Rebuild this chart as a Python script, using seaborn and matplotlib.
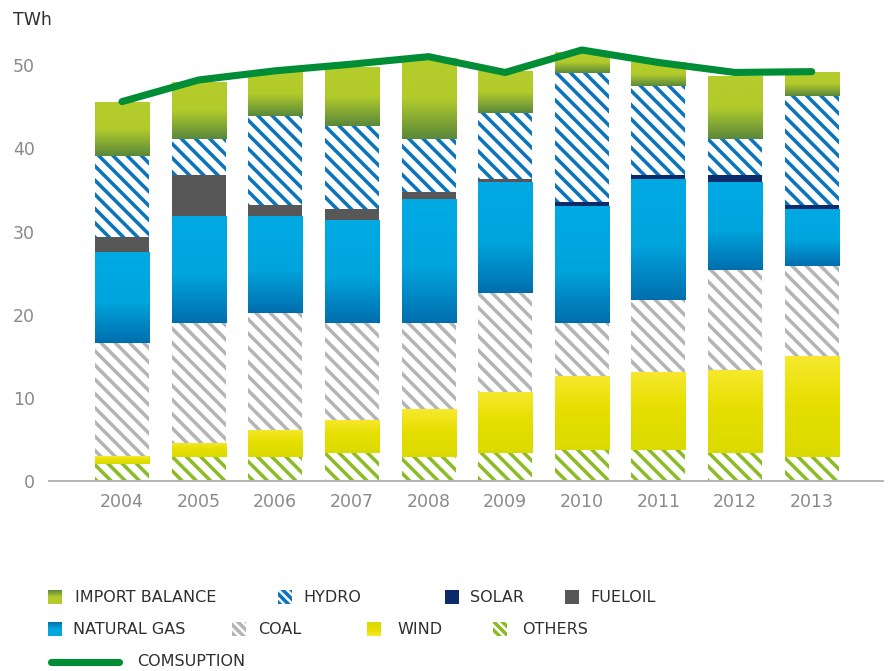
import numpy as np
import pandas as pd
import matplotlib
matplotlib.use("Agg")
import matplotlib.pyplot as plt
import seaborn as sns
from matplotlib.colors import LinearSegmentedColormap
from matplotlib.patches import Rectangle

# ---------------- data ----------------
years = ["2004", "2005", "2006", "2007", "2008", "2009", "2010", "2011", "2012", "2013"]
others = [2.1, 2.9, 2.9, 3.4, 2.9, 3.4, 3.7, 3.7, 3.4, 2.9]
wind = [0.9, 1.75, 3.3, 4.0, 5.75, 7.3, 8.9, 9.4, 10.0, 12.1]
coal = [13.6, 14.35, 14.0, 11.6, 10.35, 11.95, 6.4, 8.65, 12.0, 10.8]
natural_gas = [10.9, 12.9, 11.65, 12.4, 14.9, 13.3, 14.1, 14.55, 10.5, 6.9]
solar = [0, 0, 0, 0, 0, 0, 0.4, 0.5, 0.9, 0.5]
fueloil = [1.9, 4.9, 1.35, 1.3, 0.8, 0.4, 0, 0, 0, 0]
hydro = [9.7, 4.3, 10.7, 10.0, 6.4, 7.9, 15.5, 10.7, 4.3, 13.1]
import_balance = [6.4, 6.9, 5.3, 7.1, 9.7, 5.0, 2.6, 2.8, 7.6, 2.9]
consumption = [45.6, 48.2, 49.3, 50.1, 51.0, 49.1, 51.8, 50.3, 49.1, 49.2]
y_ticks = [0, 10, 20, 30, 40, 50]

# ---------------- style ----------------
DPI = 128
W, H = 890, 671
sns.set_style("white")
plt.rcParams["font.family"] = ["DejaVu Sans"]
plt.rcParams["hatch.linewidth"] = 2.0

GRAY_TXT = "#8a8a8a"
DARK_TXT = "#2f2f2f"
HATCH = "\\\\\\"

cm_gas = LinearSegmentedColormap.from_list(
    "gas", [(0, "#006ead"), (0.45, "#00a4dd"), (1, "#00aae3")])
cm_imp = LinearSegmentedColormap.from_list(
    "imp", [(0, "#5a883b"), (0.5, "#b2cb2b"), (1, "#b5cd2b")])
cm_wind = LinearSegmentedColormap.from_list(
    "wind", [(0, "#dbda00"), (0.55, "#e6df00"), (1, "#f6e92e")])

layers = [
    ("OTHERS", others, dict(hatch="#8dbb25")),
    ("WIND", wind, dict(cmap=cm_wind)),
    ("COAL", coal, dict(hatch="#b5b5b5")),
    ("NATURAL GAS", natural_gas, dict(cmap=cm_gas)),
    ("SOLAR", solar, dict(color="#0d2b6b")),
    ("FUELOIL", fueloil, dict(color="#575757")),
    ("HYDRO", hydro, dict(hatch="#0a74bd")),
    ("IMPORT BALANCE", import_balance, dict(cmap=cm_imp)),
]

fig = plt.figure(figsize=(W / DPI, H / DPI), dpi=DPI)
ax = fig.add_axes([49 / W, (H - 481.3) / H, (883 - 49) / W, (481.3 - 40) / H])

grad = np.linspace(0, 1, 512).reshape(-1, 1)
bottom = np.zeros(len(years))
for name, vals, st in layers:
    vals = np.asarray(vals, dtype=float)
    before = len(ax.patches)
    fc = st.get("color", "white")
    sns.barplot(x=years, y=vals, bottom=bottom, color=fc, saturation=1,
                width=0.705, errorbar=None, ax=ax, linewidth=0)
    new = ax.patches[before:]
    for p in new:
        p.set_linewidth(0)
        p.set_facecolor(fc)
        if "hatch" in st:
            p.set_facecolor("white")
            p.set_edgecolor(st["hatch"])
            p.set_hatch(HATCH)
            p.set_linewidth(0)
        if "cmap" in st and p.get_height() > 0:
            x0, y0 = p.get_x(), p.get_y()
            w, h = p.get_width(), p.get_height()
            im = ax.imshow(grad, cmap=st["cmap"], origin="lower", aspect="auto",
                           extent=[x0, x0 + w, y0, y0 + h], zorder=1.5,
                           interpolation="bilinear", interpolation_stage="rgba")
            im.set_clip_path(p)
    bottom = bottom + vals

xpos = np.arange(len(years))
sns.lineplot(x=xpos, y=consumption, ax=ax, color="#008d36", linewidth=4.0,
             solid_capstyle="round", zorder=5)

ax.set_xlim(-0.953, 9.93)
ax.set_ylim(0, 53)
ax.set_yticks(y_ticks)
ax.set_yticklabels([str(t) for t in y_ticks])
ax.set_xticks(xpos)
ax.set_xticklabels(years)
ax.set_xlabel("")
ax.set_ylabel("")
for s in ["top", "right", "left"]:
    ax.spines[s].set_visible(False)
ax.spines["bottom"].set_color("#b4b4b4")
ax.spines["bottom"].set_linewidth(1.1)
ax.tick_params(axis="both", length=0, labelsize=9.8, colors=GRAY_TXT)
ax.tick_params(axis="y", pad=7.8)
ax.tick_params(axis="x", pad=6.5)
ax.grid(False)

fig.text(13 / W, 1 - 20 / H, "TWh", fontsize=9.8, color=DARK_TXT,
         ha="left", va="center")

# ---------------- legend (pixel overlay) ----------------
lg = fig.add_axes([0, 0, 1, 1], zorder=10)
lg.set_xlim(0, W)
lg.set_ylim(H, 0)
lg.axis("off")
lg.patch.set_alpha(0)

def swatch(x, y, st, size=14):
    if "cmap" in st:
        r = Rectangle((x, y - size / 2), size, size, facecolor="none", linewidth=0)
        lg.add_patch(r)
        im = lg.imshow(grad, cmap=st["cmap"], origin="upper", aspect="auto",
                       extent=[x, x + size, y + size / 2, y - size / 2])
        im.set_clip_path(r)
    elif "hatch" in st:
        lg.add_patch(Rectangle((x, y - size / 2), size, size, facecolor="white",
                               edgecolor=st["hatch"], hatch="\\\\\\\\\\",
                               linewidth=0))
    else:
        lg.add_patch(Rectangle((x, y - size / 2), size, size,
                               facecolor=st["color"], linewidth=0))

style = {n: s for n, _, s in layers}
legend_rows = [
    (597, [("IMPORT BALANCE", 48, 75), ("HYDRO", 278, 303),
           ("SOLAR", 445, 470), ("FUELOIL", 565, 590)]),
    (629, [("NATURAL GAS", 48, 73), ("COAL", 232, 258),
           ("WIND", 367, 397), ("OTHERS", 493, 522)]),
]
for y, items in legend_rows:
    for name, mx, tx in items:
        swatch(mx, y, style[name])
        lg.text(tx, y, name, fontsize=9.0, color=DARK_TXT, ha="left", va="center")

lg.plot([51, 119], [662, 662], color="#008d36", linewidth=4.0,
        solid_capstyle="round")
lg.text(137, 662, "COMSUPTION", fontsize=9.0, color=DARK_TXT,
        ha="left", va="center")

fig.savefig("out.png", dpi=DPI)
